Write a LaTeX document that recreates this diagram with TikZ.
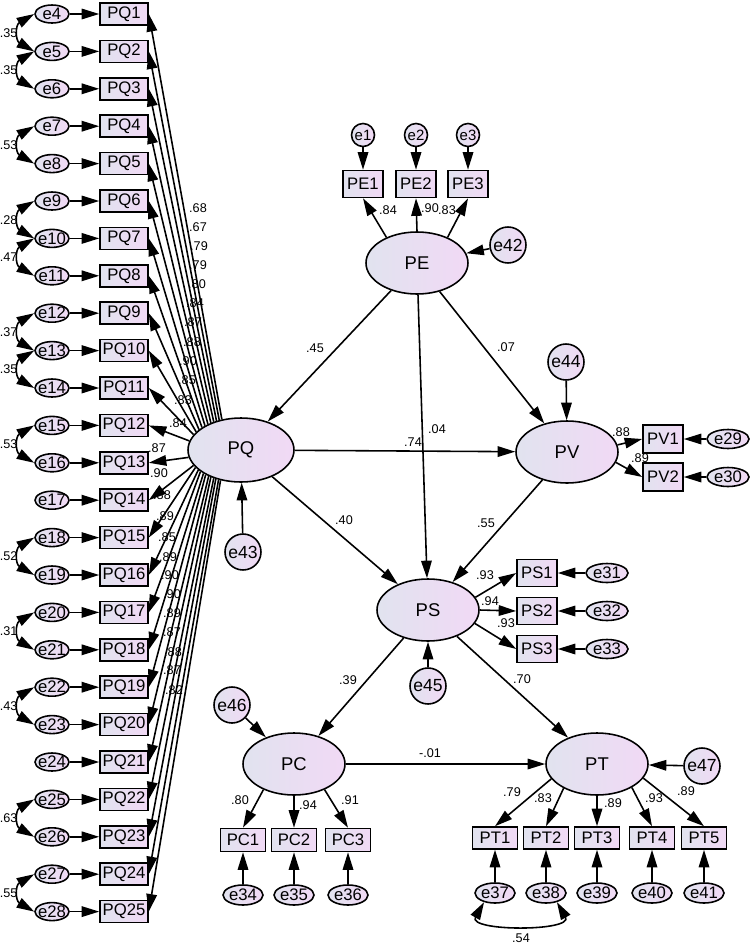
\documentclass[tikz,border=0pt]{standalone}
\usepackage{fontspec}
\setmainfont{Liberation Sans}
\usetikzlibrary{arrows.meta,shapes.geometric}
\definecolor{semleft}{RGB}{225,227,239}
\definecolor{semright}{RGB}{241,217,245}

\begin{document}
\begin{tikzpicture}
  [x=0.02cm,y=-0.02cm,line width=0.9pt,>={Triangle[length=10pt,width=6pt]},
   every node/.style={inner sep=0pt,font=\fontsize{9.5}{11}\selectfont},
   obs/.style={rectangle,draw=black,left color=semleft,right color=semright,minimum width=0.8cm,minimum height=0.54cm},
   lat/.style={ellipse,draw=black,left color=semleft,right color=semright,minimum width=2.04cm,minimum height=1.24cm,font=\fontsize{10.5}{12}\selectfont},
   err/.style={ellipse,draw=black,left color=semleft,right color=semright,inner xsep=-1.5pt,minimum width=0.84cm,minimum height=0.38cm},
   res/.style={circle,draw=black,left color=semleft,right color=semright,minimum size=0.72cm,font=\fontsize{10}{12}\selectfont},
   coef/.style={font=\fontsize{7.2}{8}\selectfont}]

  \useasboundingbox (0,0) rectangle (750,943);

  % PQ items with their errors
  \foreach \i in {1,...,25}{
    \pgfmathsetmacro{\yy}{14+(\i-1)*37.4}
    \pgfmathtruncatemacro{\ei}{\i+3}
    \node[obs,minimum width=0.96cm,minimum height=0.44cm] (PQ\i) at (124,\yy) {PQ\i};
    \node[err,minimum width=0.68cm,minimum height=0.36cm] (e\ei) at (52,\yy) {e\ei};
    \draw[->] (e\ei) -- (PQ\i);
  }

  % error covariances
  \foreach \ea/\eb/\val in {4/5/.35,5/6/.35,7/8/.53,9/10/.28,10/11/.47,12/13/.37,13/14/.35,
                            15/16/.53,18/19/.52,20/21/.31,22/23/.43,25/26/.63,27/28/.55}
    \draw[<->] (e\ea.west) to[out=210,in=150,looseness=1.5] node[coef,left=1pt] (c\ea) {\val} (e\eb.west);

  \node[lat,minimum width=2.12cm,minimum height=1.28cm] (PQ) at (241,450) {PQ};

  % loadings of PQ
  \foreach \i/\ang/\val/\x/\y in {1/122/.68/198/208,2/126/.67/198/227,3/130/.79/199/246,4/134/.79/198/265,
      5/138/.80/197/284,6/142/.84/195/303,7/146/.87/193/322,8/150/.88/192/342,9/154/.90/188/361,
      10/158/.85/187/380,11/162/.83/183/400,12/170/.84/178/423,13/188/.87/157/448,14/198/.90/159/473,
      15/201/.88/162/495,16/205/.89/165/516,17/208/.85/167/537,18/212/.89/168/557,19/215/.90/170/575,
      20/219/.90/172/594,21/222/.89/172/613,22/226/.87/172/632,23/229/.88/173/652,24/233/.87/172/670,
      25/236/.82/174/690}{
    \draw[->] (PQ.\ang) -- (PQ\i.east);
    \node[coef] (lq\i) at (\x,\y) {\val};
  }

  % latent variables
  \node[lat] (PE) at (417,263) {PE};
  \node[lat] (PV) at (567,452) {PV};
  \node[lat] (PS) at (428,610) {PS};
  \node[lat] (PC) at (294,764) {PC};
  \node[lat] (PT) at (597,764) {PT};

  % residuals
  \node[res] (e42) at (508,245) {e42};
  \node[res] (e43) at (243,552) {e43};
  \node[res] (e44) at (566,362) {e44};
  \node[res] (e45) at (428,686) {e45};
  \node[res] (e46) at (232,705) {e46};
  \node[res] (e47) at (702,766) {e47};
  \foreach \from/\to in {e42/PE,e43/PQ,e44/PV,e45/PS,e46/PC,e47/PT}
    \draw[->] (\from) -- (\to);

  % structural paths
  \foreach \from/\to in {PE/PQ,PE/PV,PE/PS,PQ/PV,PQ/PS,PV/PS,PS/PC,PS/PT,PC/PT}
    \draw[->] (\from) -- (\to);

  % PE items
  \foreach \i/\x/\ang in {1/363/140,2/416/90,3/468/40}{
    \node[obs] (PE\i) at (\x,184) {PE\i};
    \node[res,minimum size=0.46cm,font=\fontsize{8.5}{10}\selectfont] (e\i) at (\x,135) {e\i};
    \draw[->] (e\i) -- (PE\i);
    \draw[->] (PE.\ang) -- (PE\i.south);
  }

  % PV items
  \foreach \i/\y/\ang in {1/439/8,2/477/-12}{
    \pgfmathtruncatemacro{\ei}{28+\i}
    \node[obs,minimum height=0.56cm] (PV\i) at (663,\y) {PV\i};
    \node[err] (e\ei) at (728,\y) {e\ei};
    \draw[->] (e\ei) -- (PV\i);
    \draw[->] (PV.\ang) -- (PV\i.west);
  }

  % PS items
  \foreach \i/\y/\ang in {1/573/15,2/611/0,3/649/-16}{
    \pgfmathtruncatemacro{\ei}{30+\i}
    \node[obs] (PS\i) at (537,\y) {PS\i};
    \node[err] (e\ei) at (607,\y) {e\ei};
    \draw[->] (e\ei) -- (PS\i);
    \draw[->] (PS.\ang) -- (PS\i.west);
  }

  % PC items
  \foreach \i/\x/\ang in {1/243/220,2/294/270,3/348/320}{
    \pgfmathtruncatemacro{\ei}{33+\i}
    \node[obs,minimum width=0.9cm,minimum height=0.46cm] (PC\i) at (\x,840) {PC\i};
    \node[err,minimum width=0.8cm,minimum height=0.4cm] (e\ei) at (\x,895) {e\ei};
    \draw[->] (e\ei) -- (PC\i);
    \draw[->] (PC.\ang) -- (PC\i.north);
  }

  % PT items
  \foreach \i/\x/\ang in {1/495/198,2/546/216,3/597/270,4/652/326,5/704/343}{
    \pgfmathtruncatemacro{\ei}{36+\i}
    \node[obs,minimum width=0.9cm,minimum height=0.44cm] (PT\i) at (\x,838) {PT\i};
    \node[err,minimum width=0.8cm,minimum height=0.4cm] (e\ei) at (\x,893) {e\ei};
    \draw[->] (e\ei) -- (PT\i);
    \draw[->] (PT.\ang) -- (PT\i.north);
  }
  \draw[<->] (e37.220) to[out=240,in=300,looseness=1.2] (e38.320);

  % coefficients
  \foreach \val/\x/\y [count=\cnt] in {.45/315/348,.07/506/347,.04/437/429,.74/413/442,.55/486/523,
      .40/344/520,.39/348/680,.70/522/679,-.01/430/753,.84/388/210,.90/430/208,.83/447/210,
      .88/621/432,.89/640/458,.93/485/575,.94/490/601,.93/506/623,.80/240/800,.94/308/805,.91/350/800,
      .79/512/792,.83/543/798,.89/613/803,.93/654/798,.89/686/791,.54/521/938}
    \node[coef] (k\cnt) at (\x,\y) {\val};

\end{tikzpicture}
\end{document}
